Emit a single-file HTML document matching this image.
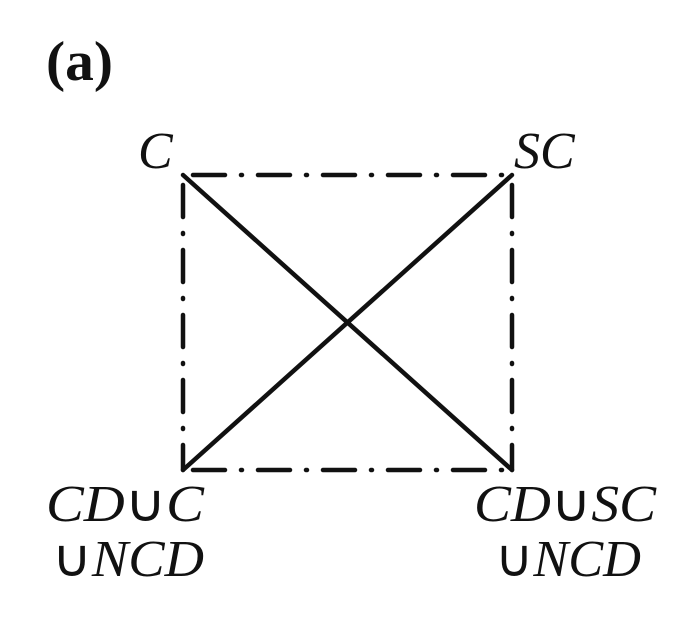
<!DOCTYPE html>
<html><head><meta charset="utf-8"><style>
body{margin:0;background:#fff;}
svg{display:block}
text{font-family:"Liberation Serif",serif;fill:#111}
.i{font-style:italic;font-size:52px}
</style></head><body>
<svg width="677" height="637" viewBox="0 0 677 637">
<text x="46" y="80" font-size="56" font-weight="bold" textLength="67" lengthAdjust="spacingAndGlyphs">(a)</text>
<text class="i" x="138" y="168">C</text>
<text class="i" x="514" y="168">SC</text>
<text class="i" x="46" y="521" textLength="158" lengthAdjust="spacingAndGlyphs">CD<tspan font-style="normal">∪</tspan>C</text>
<text class="i" x="52" y="576" textLength="152" lengthAdjust="spacingAndGlyphs"><tspan font-style="normal">∪</tspan>NCD</text>
<text class="i" x="474" y="521" textLength="182" lengthAdjust="spacingAndGlyphs">CD<tspan font-style="normal">∪</tspan>SC</text>
<text class="i" x="495" y="576" textLength="146" lengthAdjust="spacingAndGlyphs"><tspan font-style="normal">∪</tspan>NCD</text>
<g stroke="#111" stroke-width="4.5" fill="none" stroke-linecap="round">
<path d="M183 175H512M183 470H512M183 175V470M512 175V470" stroke-dasharray="32 16 1 16" stroke-dashoffset="-10"/>
<path d="M183 175L512 470M512 175L183 470"/>
</g>
</svg>
</body></html>
